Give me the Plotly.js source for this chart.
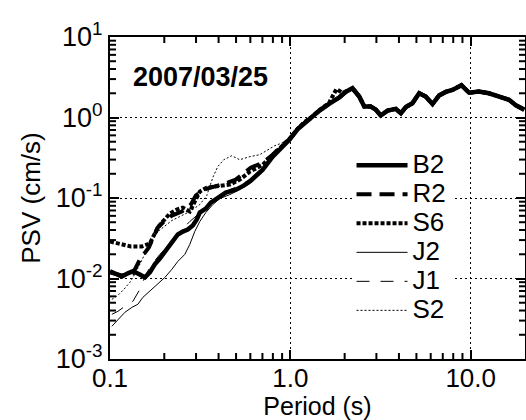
<!DOCTYPE html>
<html>
<head>
<meta charset="utf-8">
<script src="https://cdn.plot.ly/plotly-3.0.1.min.js"></script>
<style>html,body{margin:0;padding:0;background:#fff;}#chart{width:526px;height:420px;}</style>
</head>
<body>
<div id="chart"></div>
<script>
// ---- data ----
const seriesNames = ['B2', 'R2', 'S6', 'J2', 'J1', 'S2'];

// short-period part, different for every station
const lowPeriodB2 = [0.1, 0.1106, 0.1164, 0.1256, 0.1339, 0.1464, 0.156, 0.1663, 0.1772, 0.1889, 0.2014, 0.2202, 0.2377, 0.2532, 0.2699, 0.2877, 0.3028, 0.3146, 0.3396, 0.362, 0.4009, 0.4383, 0.4978, 0.5511, 0.6028, 0.6506, 0.7026, 0.798, 0.9066];
const lowPSV_B2    = [0.0123, 0.0112, 0.0106, 0.0116, 0.0123, 0.0112, 0.0103, 0.0119, 0.0150, 0.0177, 0.0217, 0.0288, 0.0352, 0.0383, 0.0406, 0.0455, 0.054, 0.0659, 0.0739, 0.0877, 0.104, 0.1166, 0.127, 0.1424, 0.164, 0.195, 0.225, 0.326, 0.433];

const lowPeriodR2 = [0.1, 0.1164, 0.1339, 0.1464, 0.1642, 0.175, 0.1841, 0.1988, 0.2202, 0.25, 0.2805, 0.2989, 0.3311, 0.362, 0.4009, 0.4496, 0.4978, 0.5511, 0.6028, 0.7026, 0.798, 0.9066];
const lowPSV_R2    = [0.0119, 0.0109, 0.0116, 0.0172, 0.0243, 0.0323, 0.043, 0.051, 0.0605, 0.0679, 0.0828, 0.1071, 0.127, 0.1345, 0.1424, 0.155, 0.169, 0.2006, 0.238, 0.274, 0.345, 0.459];

const lowPeriodS6 = [0.1, 0.1106, 0.1209, 0.1305, 0.1502, 0.1663, 0.175, 0.1841, 0.1963, 0.2146, 0.2346, 0.2532, 0.2769, 0.3028, 0.3146, 0.344, 0.4061, 0.4612, 0.5238, 0.5951, 0.7026, 0.798, 0.9066];
const lowPSV_S6    = [0.0288, 0.0272, 0.0257, 0.025, 0.025, 0.0272, 0.0342, 0.043, 0.051, 0.0641, 0.0718, 0.076, 0.0679, 0.1011, 0.12, 0.1345, 0.1424, 0.1466, 0.169, 0.212, 0.259, 0.345, 0.459];

const lowPeriodJ2 = [0.1024, 0.1106, 0.1209, 0.1322, 0.1427, 0.1521, 0.1706, 0.1889, 0.2014, 0.2202, 0.2377, 0.2598, 0.2769, 0.2951, 0.3146, 0.3396, 0.3713, 0.4061, 0.4612, 0.5238, 0.5951, 0.7026, 0.798, 0.9066];
const lowPSV_J2    = [0.00255, 0.00311, 0.0038, 0.00438, 0.00478, 0.00583, 0.00733, 0.0092, 0.0103, 0.013, 0.0163, 0.0199, 0.0265, 0.0383, 0.051, 0.0659, 0.0828, 0.0983, 0.1102, 0.127, 0.151, 0.212, 0.317, 0.42];

const lowPeriodJ1 = [0.1024, 0.1106, 0.1209, 0.1339, 0.1464, 0.158, 0.1706, 0.1889, 0.2146, 0.2438, 0.2769, 0.3146, 0.3574, 0.4061, 0.4612, 0.5238, 0.5951, 0.7026, 0.798, 0.9066];
const lowPSV_J1    = [0.00359, 0.00391, 0.00451, 0.0052, 0.00733, 0.01124, 0.01495, 0.0199, 0.0265, 0.0383, 0.051, 0.0659, 0.0828, 0.1071, 0.127, 0.1424, 0.169, 0.238, 0.326, 0.446];

const lowPeriodS2 = [0.1024, 0.1106, 0.1194, 0.1289, 0.1391, 0.1464, 0.158, 0.1706, 0.1841, 0.2014, 0.2202, 0.2438, 0.2769, 0.3146, 0.344, 0.3713, 0.3958, 0.4273, 0.4731, 0.5238, 0.5951, 0.6761, 0.7487, 0.8186, 0.9066];
const lowPSV_S2    = [0.00551, 0.00617, 0.00733, 0.00895, 0.0119, 0.01495, 0.0217, 0.0305, 0.0383, 0.0455, 0.0525, 0.0588, 0.0679, 0.0828, 0.1071, 0.179, 0.245, 0.299, 0.335, 0.299, 0.326, 0.345, 0.398, 0.446, 0.486];

// 1-2.2 s part, where the stations coincide (S6 peaks a little above the others)
const midPeriod = [0.987, 1.1, 1.2, 1.33, 1.45, 1.64, 1.87, 2.03, 2.21];
const midPSV    = [0.53, 0.72, 0.86, 1.02, 1.22, 1.48, 1.78, 2.08, 2.31];
const midPeriodS6 = [0.987, 1.1, 1.2, 1.33, 1.45, 1.64, 1.80, 1.95, 2.21];
const midPSV_S6    = [0.54, 0.73, 0.88, 1.04, 1.24, 1.52, 2.25, 2.02, 2.31];

// long-period part, common to all stations
const tailPeriod = [2.41, 2.57, 2.79, 2.98, 3.17, 3.46, 3.84, 4.10, 4.37, 4.75, 5.18, 5.63, 6.14, 6.68, 7.27, 7.92, 8.88, 9.80, 11.1, 12.6, 14.4, 16.3, 17.8, 19.8];
const tailPSV    = [1.82, 1.37, 1.37, 1.25, 1.06, 1.22, 1.28, 1.13, 1.35, 1.50, 2.00, 1.82, 1.47, 1.88, 2.08, 2.20, 2.52, 2.03, 2.10, 2.00, 1.82, 1.66, 1.42, 1.25];

// axis tick labels and tick positions
const xTickVals = [0.1, 1, 10];
const xTickText = ['0.1', '1.0', '10.0'];
const xMinorTicks = [0.2, 0.3, 0.4, 0.5, 0.6, 0.7, 0.8, 0.9, 2, 3, 4, 5, 6, 7, 8, 9];
const yTickVals = [0.001, 0.01, 0.1, 1, 10];
const yTickText = ['10<sup>-3</sup>', '10<sup>-2</sup>', '10<sup>-1</sup>', '10<sup>0</sup>', '10<sup>1</sup>'];
const yMinorTicks = [0.002, 0.003, 0.004, 0.005, 0.006, 0.007, 0.008, 0.009,
                     0.02, 0.03, 0.04, 0.05, 0.06, 0.07, 0.08, 0.09,
                     0.2, 0.3, 0.4, 0.5, 0.6, 0.7, 0.8, 0.9,
                     2, 3, 4, 5, 6, 7, 8, 9];
const eventLabel = '2007/03/25';

// ---- build traces ----
const lowParts = {
  B2: [lowPeriodB2, lowPSV_B2],
  R2: [lowPeriodR2, lowPSV_R2],
  S6: [lowPeriodS6, lowPSV_S6],
  J2: [lowPeriodJ2, lowPSV_J2],
  J1: [lowPeriodJ1, lowPSV_J1],
  S2: [lowPeriodS2, lowPSV_S2]
};
const styles = {
  B2: {width: 4.5, dash: 'solid'},
  R2: {width: 4, dash: '15px,8px'},
  S6: {width: 4, dash: '4px,2px'},
  J2: {width: 1, dash: 'solid'},
  J1: {width: 1, dash: '13px,11px'},
  S2: {width: 1, dash: '2px,2px'}
};
const FONT = 'Liberation Sans, Arial, Helvetica, sans-serif';
const MINOR_LEN = 6;

const traces = seriesNames.map(function (n) {
  const mp = n === 'S6' ? midPeriodS6 : midPeriod;
  const mv = n === 'S6' ? midPSV_S6 : midPSV;
  return {
    type: 'scatter', mode: 'lines',
    name: '<span style="font-size:26px">' + n + '</span>',
    x: lowParts[n][0].concat(mp, tailPeriod),
    y: lowParts[n][1].concat(mv, tailPSV),
    line: {color: '#000', width: styles[n].width, dash: styles[n].dash},
    hoverinfo: 'skip'
  };
});

// minor ticks on all four frame sides, placed through the axes' own log scales
const tickLine = {color: '#000', width: 2};
const minorTickShapes = [];
xMinorTicks.forEach(function (v) {
  [[0, MINOR_LEN], [1, -MINOR_LEN]].forEach(function (s) {
    minorTickShapes.push({type: 'line', xref: 'x', yref: 'paper', x0: v, x1: v,
      ysizemode: 'pixel', yanchor: s[0], y0: 0, y1: s[1], line: tickLine, layer: 'above'});
  });
});
yMinorTicks.forEach(function (v) {
  [[0, MINOR_LEN], [1, -MINOR_LEN]].forEach(function (s) {
    minorTickShapes.push({type: 'line', xref: 'paper', yref: 'y', y0: v, y1: v,
      xsizemode: 'pixel', xanchor: s[0], x0: 0, x1: s[1], line: tickLine, layer: 'above'});
  });
});

const axisCommon = {
  type: 'log',
  ticks: 'inside', ticklen: 9, tickwidth: 2, tickcolor: '#000',
  showline: true, linecolor: '#000', linewidth: 2, mirror: 'ticks',
  showgrid: true, gridcolor: '#000', gridwidth: 1, griddash: '2px,3px',
  zeroline: false,
  tickmode: 'array'
};

const layout = {
  width: 526, height: 420,
  margin: {l: 110, r: 1, t: 37, b: 61},
  paper_bgcolor: '#fff', plot_bgcolor: '#fff',
  font: {family: FONT, color: '#000'},
  showlegend: true,
  legend: {
    x: 0.582, xanchor: 'left', y: 0.662, yanchor: 'top',
    bgcolor: '#fff', borderwidth: 0, itemwidth: 51,
    font: {family: FONT, size: 20, color: '#000'},
    tracegroupgap: 0
  },
  xaxis: Object.assign({}, axisCommon, {
    range: [-1, Math.log10(20)],
    tickvals: xTickVals, ticktext: xTickText,
    tickfont: {family: FONT, size: 26, color: '#000'},
    ticklabelstandoff: -5,
    title: {text: 'Period (s)', font: {family: FONT, size: 25, color: '#000'}, standoff: 2}
  }),
  yaxis: Object.assign({}, axisCommon, {
    range: [-3, 1],
    tickvals: yTickVals, ticktext: yTickText,
    tickfont: {family: FONT, size: 27, color: '#000'},
    title: {text: 'PSV (cm/s)', font: {family: FONT, size: 26, color: '#000'}, standoff: 8}
  }),
  shapes: minorTickShapes,
  annotations: [{
    text: '<b>' + eventLabel + '</b>',
    xref: 'paper', yref: 'paper', x: 0.05, y: 0.876,
    xanchor: 'left', yanchor: 'middle', showarrow: false,
    font: {family: FONT, size: 27, color: '#000'}
  }]
};

Plotly.newPlot('chart', traces, layout, {displayModeBar: false, staticPlot: true});
</script>
</body>
</html>
